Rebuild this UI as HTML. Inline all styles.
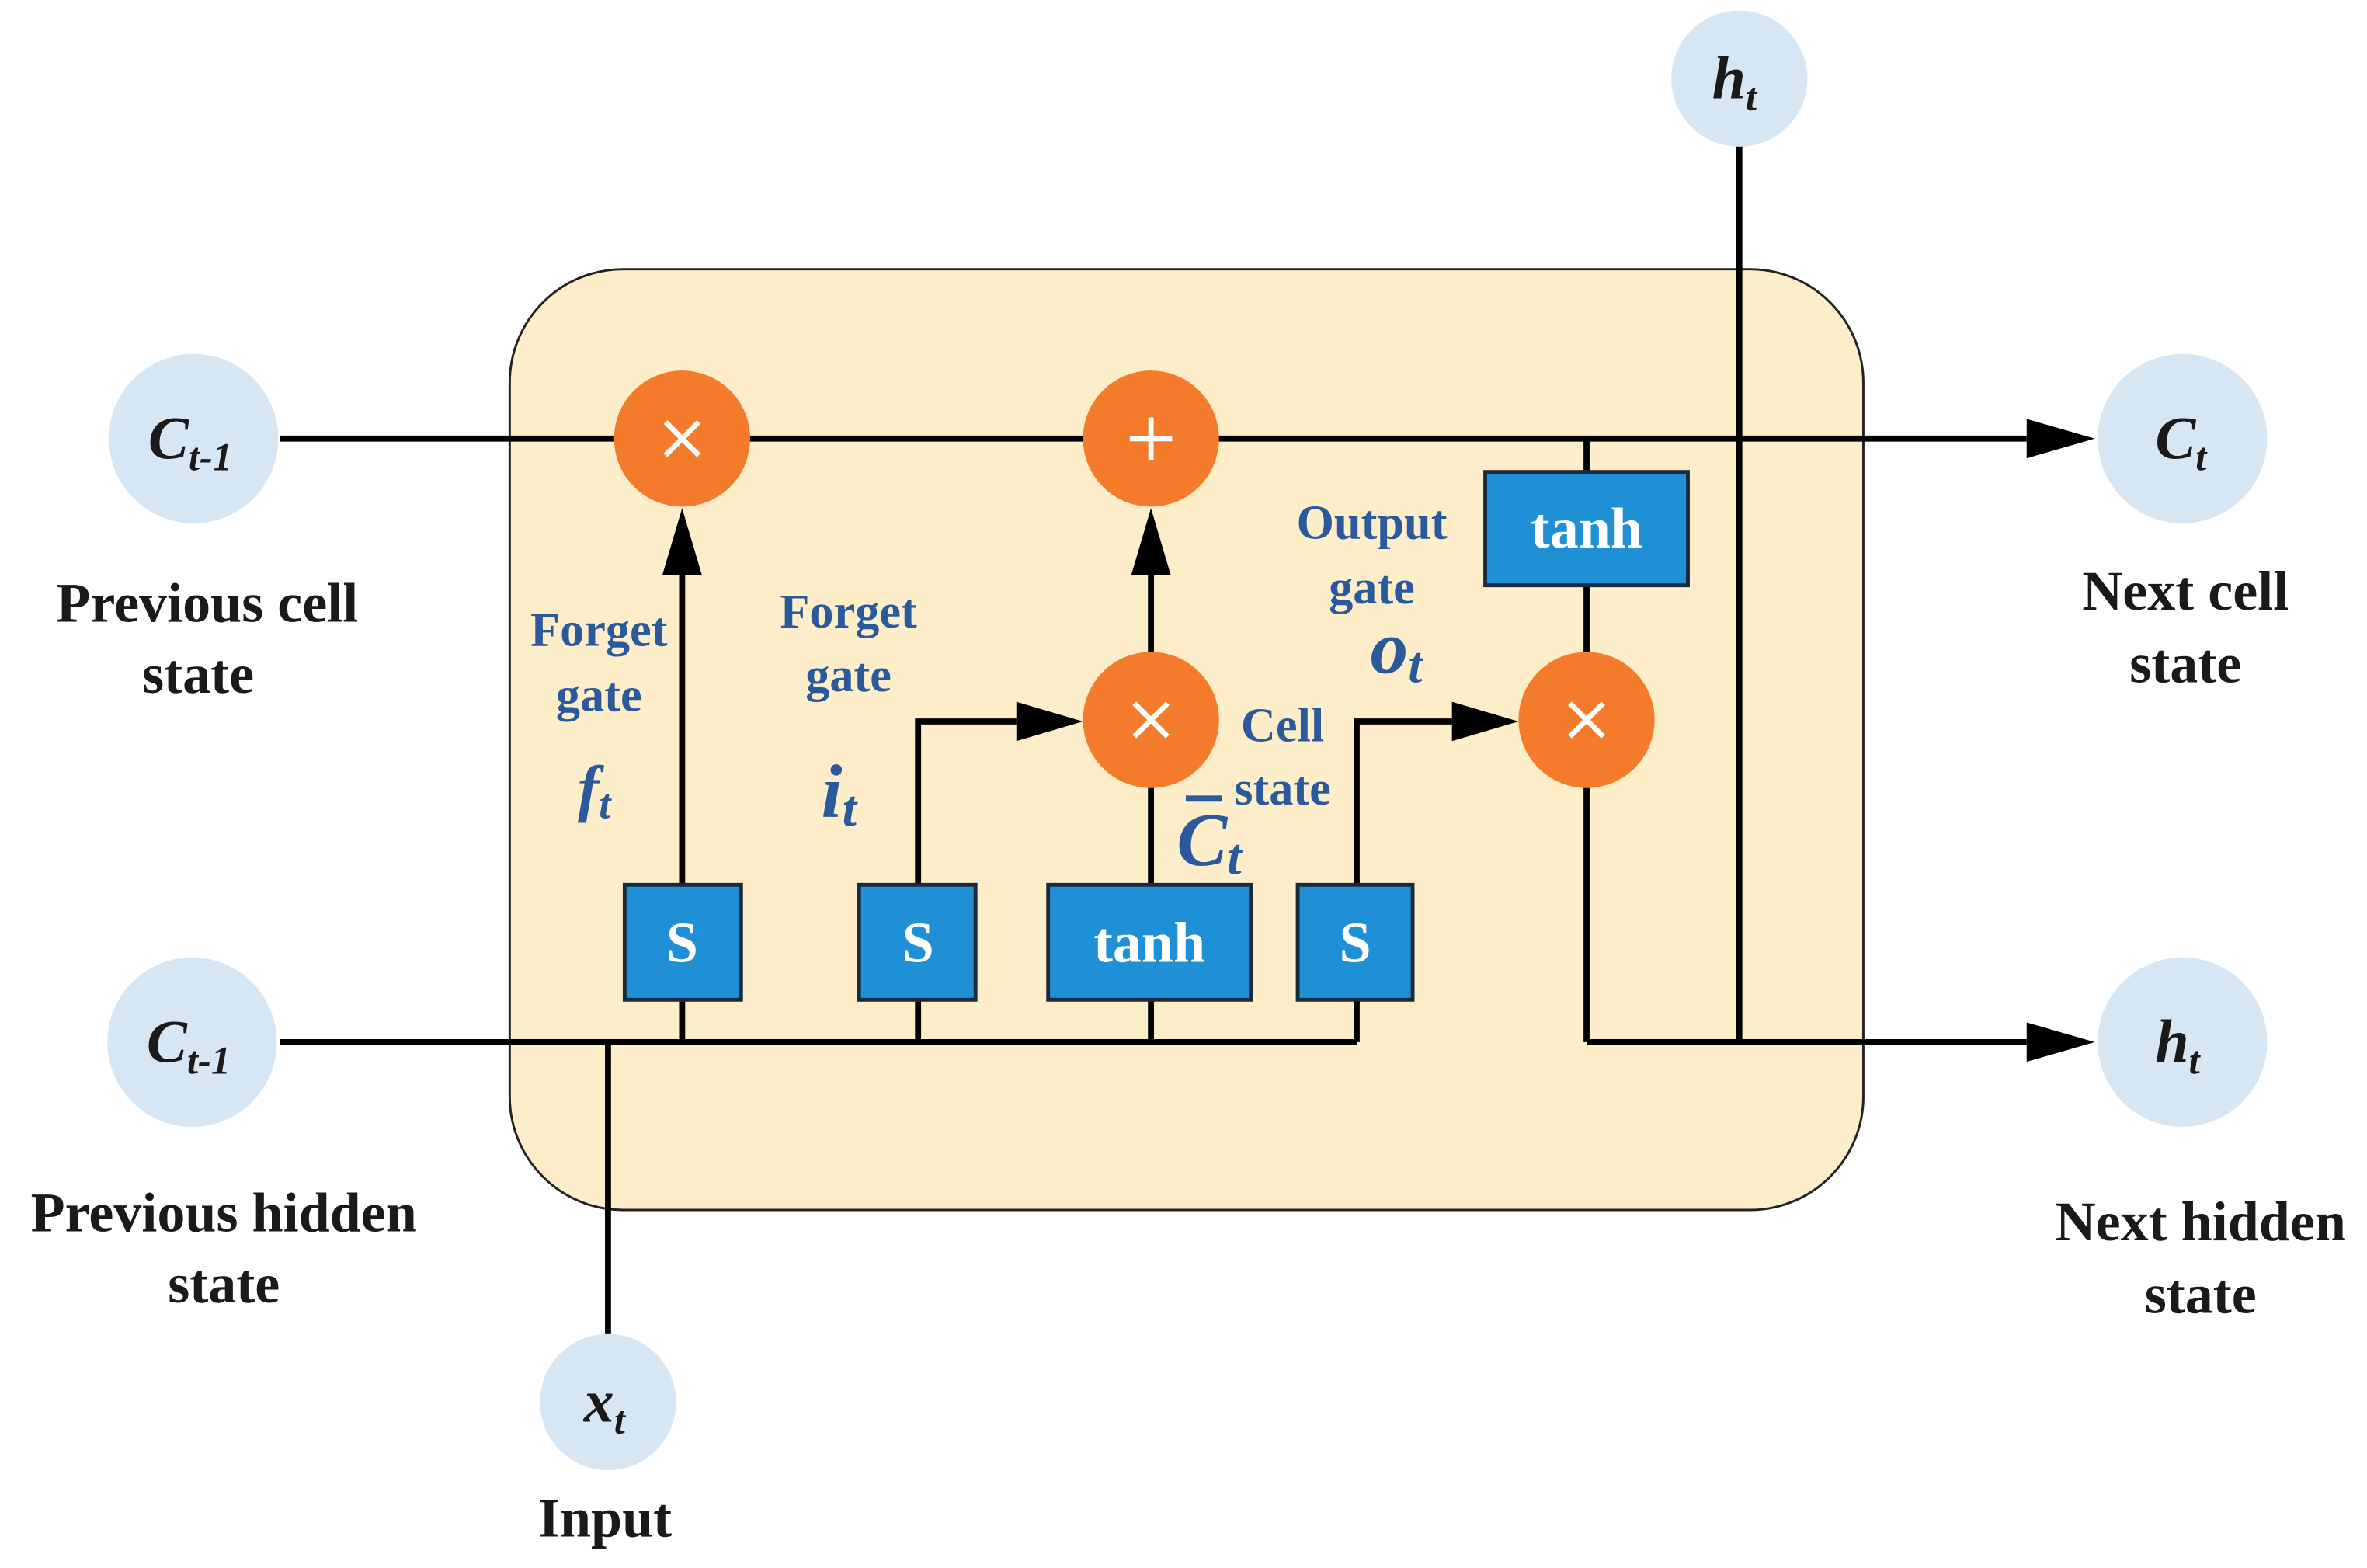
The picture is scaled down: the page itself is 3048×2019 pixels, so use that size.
<!DOCTYPE html>
<html><head><style>html,body{margin:0;padding:0;background:#fff}svg{display:block}</style></head><body>
<svg width="3048" height="2019" viewBox="0 0 1565 1036.7" preserveAspectRatio="none" xmlns="http://www.w3.org/2000/svg" font-family="Liberation Serif, serif" font-weight="bold">
<rect x="337" y="178" width="895" height="622" rx="75" fill="#fdedc8" stroke="#222" stroke-width="1.5"/>
<g stroke="#000" stroke-width="4" fill="none">
<line x1="185" y1="290" x2="1340" y2="290"/>
<line x1="185" y1="689" x2="897" y2="689"/>
<line x1="1049" y1="689" x2="1340" y2="689"/>
<line x1="1049" y1="521" x2="1049" y2="689"/>
<line x1="1150" y1="96" x2="1150" y2="689"/>
<line x1="402" y1="689" x2="402" y2="883"/>
<line x1="451" y1="689" x2="451" y2="380"/>
<polyline points="607,689 607,477 672,477"/>
<line x1="761" y1="689" x2="761" y2="521"/>
<line x1="761" y1="431" x2="761" y2="380"/>
<polyline points="897,689 897,477 960,477"/>
<line x1="1049" y1="290" x2="1049" y2="431"/>
</g>
<g fill="#000">
<path d="M1340,277L1385,290L1340,303z"/>
<path d="M1340,676L1385,689L1340,702z"/>
<path d="M438,380L451,336L464,380z"/>
<path d="M748,380L761,336L774,380z"/>
<path d="M672,464L716,477L672,490z"/>
<path d="M960,464L1004,477L960,490z"/>
</g>
<g fill="#d7e6f3">
<circle cx="128" cy="290" r="56"/><circle cx="127" cy="689" r="56"/>
<circle cx="1443" cy="290" r="56"/><circle cx="1443" cy="689" r="56"/>
<circle cx="1150" cy="52" r="45"/><circle cx="402" cy="927" r="45"/>
</g>
<g fill="#f47b2b">
<circle cx="451" cy="290" r="45"/><circle cx="761" cy="290" r="45"/>
<circle cx="761" cy="476" r="45"/><circle cx="1049" cy="476" r="45"/>
</g>
<g stroke="#fff" stroke-width="3.5">
<path d="M440,279L462,301M462,279L440,301"/>
<path d="M750,465L772,487M772,465L750,487"/>
<path d="M1038,465L1060,487M1060,465L1038,487"/>
<path d="M761,276V304M747,290H775"/>
</g>
<g fill="#1f8fd6" stroke="#1a2a3a" stroke-width="2.5">
<rect x="413" y="585" width="77" height="76"/><rect x="568" y="585" width="77" height="76"/>
<rect x="693" y="585" width="134" height="76"/><rect x="858" y="585" width="76" height="76"/>
<rect x="982" y="312" width="134" height="75"/>
</g>
<g fill="#fff" font-size="38" text-anchor="middle">
<text x="451" y="636">S</text><text x="607" y="636">S</text><text x="760" y="636">tanh</text>
<text x="896" y="636">S</text><text x="1049" y="362">tanh</text>
</g>
<g fill="#1a1a1a" font-size="37" text-anchor="middle">
<text x="137" y="411">Previous cell</text><text x="131" y="458">state</text>
<text x="148" y="814">Previous hidden</text><text x="148" y="861">state</text>
<text x="1445" y="403">Next cell</text><text x="1445" y="451">state</text>
<text x="1455" y="820">Next hidden</text><text x="1455" y="868">state</text>
<text x="400" y="1016">Input</text>
</g>
<g fill="#1a1a1a" font-style="italic" font-size="40">
<text x="98" y="303">C<tspan font-size="26" dy="8">t-1</tspan></text>
<text x="97" y="702">C<tspan font-size="26" dy="8">t-1</tspan></text>
<text x="1425" y="303">C<tspan font-size="26" dy="8">t</tspan></text>
<text x="1425" y="702">h<tspan font-size="26" dy="8">t</tspan></text>
<text x="1132" y="65">h<tspan font-size="26" dy="8">t</tspan></text>
<text x="386" y="940">x<tspan font-size="26" dy="8">t</tspan></text>
</g>
<g fill="#2b5a9c" font-size="32" text-anchor="middle">
<text x="396" y="427">Forget</text><text x="396" y="470">gate</text>
<text x="561" y="415">Forget</text><text x="561" y="457">gate</text>
<text x="907" y="356">Output</text><text x="907" y="399">gate</text>
<text x="848" y="490">Cell</text><text x="848" y="532">state</text>
</g>
<g fill="#2b5a9c" font-style="italic">
<text x="382" y="535" font-size="42">f<tspan font-size="28" dy="6">t</tspan></text>
<text x="543" y="540" font-size="50">i<tspan font-size="34" dy="6">t</tspan></text>
<text x="906" y="445" font-size="50">o<tspan font-size="34" dy="6">t</tspan></text>
<text x="778" y="572" font-size="50">C<tspan font-size="34" dy="6">t</tspan></text>
</g>
<line x1="784" y1="528" x2="808" y2="528" stroke="#2b5a9c" stroke-width="4"/>
</svg>
</body></html>
